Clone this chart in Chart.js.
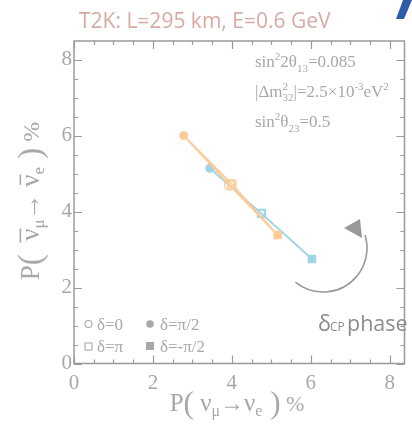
<!DOCTYPE html>
<html>
<head>
<meta charset="utf-8">
<script src="https://cdn.jsdelivr.net/npm/chart.js@4/dist/chart.umd.min.js"></script>
<style>
html, body { margin: 0; padding: 0; background: #fff; }
#wrap { width: 412px; height: 424px; }
</style>
</head>
<body>
<div id="wrap"><canvas id="bpChart" width="412" height="424"></canvas></div>
<script>
/* bi-probability plot, T2K */

// delta_CP at each marked point, in order round the ellipse
var deltaLabels = ["0", "π/2", "π", "-π/2", "0"];
// orange ellipse, P(nu) and P(nubar) in %
var nhX = [3.94, 2.78, 4.00, 5.16, 3.94];
var nhY = [4.70, 6.00, 4.72, 3.38, 4.70];
// blue ellipse
var ihX = [4.74, 3.44, 4.75, 6.03, 4.74];
var ihY = [3.96, 5.14, 3.95, 2.75, 3.96];

var xTicks = [0, 2, 4, 6, 8];
var yTicks = [0, 2, 4, 6, 8];
var minorStep = 0.5;

var orange = "#fccb98";
var blue = "#9dd5e5";
var axisGrey = "#9a9a9a";
var textGrey = "#a8a8a8";
var serif = '"Liberation Serif", "DejaVu Serif", serif';

function toPoints(xs, ys) {
    return xs.map(function (x, i) { return { x: x, y: ys[i] }; });
}

// open markers for 0 and pi, filled for +-pi/2
function markerSet(color, openR) {
    return {
        pointStyle: ["circle", "circle", "rect", "rect", "circle"],
        pointRadius: [openR, 4.5, 5.5, 6, 0],
        pointBackgroundColor: ["rgba(0,0,0,0)", color, "rgba(0,0,0,0)", color, color],
        pointBorderColor: color,
        pointBorderWidth: [1.5, 0, 1.5, 0, 0]
    };
}

// text made of pieces (sub/superscripts, overbars)
function richWidth(ctx, parts) {
    var w = 0;
    parts.forEach(function (p) {
        ctx.font = (p.size || 17) + "px " + (p.font || serif);
        if (!p.stack) w += ctx.measureText(p.t).width;
    });
    return w;
}
function drawRich(ctx, parts, x, y) {
    var cx = x;
    parts.forEach(function (p) {
        var size = p.size || 17;
        ctx.font = size + "px " + (p.font || serif);
        var w = ctx.measureText(p.t).width;
        ctx.fillText(p.t, cx, y + (p.dy || 0));
        if (p.bar) {
            ctx.fillRect(cx + w * 0.45, y + (p.dy || 0) - size * 0.72, w * 0.55, 1.6);
        }
        if (!p.stack) cx += w;
    });
}

var nuX = [
    { t: "P", size: 25 }, { t: "(", size: 31, dy: 2 }, { t: " ν", size: 25 },
    { t: "μ", size: 16, dy: 5 }, { t: "→", size: 24 }, { t: "ν", size: 25 },
    { t: "e", size: 16, dy: 5 }, { t: " )", size: 31, dy: 2 }, { t: " %", size: 22 }
];
var nuY = [
    { t: "P", size: 27 }, { t: "(", size: 33, dy: 2 }, { t: "  ν", size: 27, bar: true },
    { t: "μ", size: 17, dy: 5 }, { t: "→", size: 26 }, { t: " ν", size: 27, bar: true },
    { t: "e", size: 17, dy: 5 }, { t: " )", size: 33, dy: 2 }, { t: " %", size: 24 }
];
var params = [
    [{ t: "sin" }, { t: "2", size: 11, dy: -7 }, { t: "2θ" }, { t: "13", size: 11, dy: 5 }, { t: "=0.085" }],
    [{ t: "|Δm" }, { t: "2", size: 11, dy: -7, stack: true }, { t: "32", size: 11, dy: 4 },
     { t: "|=2.5×10" }, { t: "-3", size: 11, dy: -7 }, { t: "eV" }, { t: "2", size: 11, dy: -7 }],
    [{ t: "sin" }, { t: "2", size: 11, dy: -7 }, { t: "θ" }, { t: "23", size: 11, dy: 5 }, { t: "=0.5" }]
];

var decorPlugin = {
    id: "decor",
    afterDraw: function (chart) {
        var ctx = chart.ctx;
        var area = chart.chartArea;
        var xs = chart.scales.x, ys = chart.scales.y;
        ctx.save();

        // frame and inward ticks on all four sides
        ctx.strokeStyle = axisGrey;
        ctx.lineWidth = 1.5;
        ctx.strokeRect(area.left, area.top, area.right - area.left - 1, area.bottom - area.top);
        ctx.lineWidth = 1.2;
        ctx.beginPath();
        for (var v = 0; v <= xs.max; v += minorStep) {
            var px = Math.round(xs.getPixelForValue(v)) + 0.5;
            var len = (v % 2 === 0) ? 8 : 4;
            ctx.moveTo(px, area.bottom); ctx.lineTo(px, area.bottom - len);
            ctx.moveTo(px, area.top); ctx.lineTo(px, area.top + len);
        }
        for (var w = 0; w <= ys.max; w += minorStep) {
            var py = Math.round(ys.getPixelForValue(w)) + 0.5;
            var l2 = (w % 2 === 0) ? 8 : 4;
            ctx.moveTo(area.left, py); ctx.lineTo(area.left + l2, py);
            ctx.moveTo(area.right - 1, py); ctx.lineTo(area.right - 1 - l2, py);
        }
        ctx.stroke();

        // axis titles
        ctx.fillStyle = textGrey;
        ctx.textBaseline = "alphabetic";
        ctx.textAlign = "left";
        var wx = richWidth(ctx, nuX);
        drawRich(ctx, nuX, 237 - wx / 2, 411);
        ctx.save();
        ctx.translate(39, 201);
        ctx.rotate(-Math.PI / 2);
        var wy = richWidth(ctx, nuY);
        drawRich(ctx, nuY, -wy / 2, 0);
        ctx.restore();

        // oscillation parameters
        params.forEach(function (line, i) {
            drawRich(ctx, line, 255, 67 + i * 30);
        });

        // legend for the delta markers
        ctx.fillStyle = textGrey;
        ctx.strokeStyle = textGrey;
        ctx.lineWidth = 1.1;
        ctx.beginPath(); ctx.arc(88.5, 324, 3.5, 0, 2 * Math.PI); ctx.stroke();
        ctx.beginPath(); ctx.arc(150, 324, 3.8, 0, 2 * Math.PI); ctx.fill();
        ctx.strokeRect(85, 343, 7, 7);
        ctx.fillRect(146, 342, 8, 8);
        ctx.font = "17px " + serif;
        ctx.fillText("δ=" + deltaLabels[0], 97, 330);
        ctx.fillText("δ=" + deltaLabels[1], 160, 330);
        ctx.fillText("δ=" + deltaLabels[2], 97, 352);
        ctx.fillText("δ=" + deltaLabels[3], 160, 352);

        // curved arrow showing the direction of delta_CP
        ctx.strokeStyle = "#999";
        ctx.lineWidth = 1.6;
        ctx.beginPath();
        ctx.arc(323, 248, 44, 2.25, -0.3, true);
        ctx.stroke();
        ctx.fillStyle = "#999";
        ctx.beginPath();
        ctx.moveTo(344, 228); ctx.lineTo(360, 219); ctx.lineTo(362, 238);
        ctx.closePath(); ctx.fill();

        ctx.fillStyle = "#8c8c8c";
        ctx.font = '21.5px "Open Sans", sans-serif';
        ctx.fillText("δ", 318, 331);
        ctx.font = '12px "Open Sans", sans-serif';
        ctx.fillText("CP", 330, 331);
        ctx.font = '21.5px "Open Sans", sans-serif';
        ctx.fillText("phase", 347, 331);

        // heading
        ctx.fillStyle = "#d7aaa4";
        ctx.font = '21px "Open Sans", sans-serif';
        ctx.fillText("T2K: L=295 km, E=0.6 GeV", 79, 28);

        // corner of the logo
        ctx.fillStyle = "#2f5ca8";
        ctx.beginPath();
        ctx.moveTo(403, 0); ctx.lineTo(412, 0); ctx.lineTo(404, 19); ctx.lineTo(396, 19);
        ctx.closePath(); ctx.fill();
        ctx.restore();
    }
};

window.onload = function () {
    var ctx = document.getElementById("bpChart").getContext("2d");
    var nh = Object.assign({
        label: "orange",
        data: toPoints(nhX, nhY),
        showLine: true,
        borderColor: orange,
        borderWidth: 1.7,
        tension: 0
    }, markerSet(orange, 5));
    var ih = Object.assign({
        label: "blue",
        data: toPoints(ihX, ihY),
        showLine: true,
        borderColor: blue,
        borderWidth: 1.8,
        tension: 0
    }, markerSet(blue, 3.5));

    window.bpChart = new Chart(ctx, {
        type: "scatter",
        data: { datasets: [nh, ih] },
        options: {
            responsive: false,
            animation: false,
            layout: { padding: { top: 41, left: 0, right: 0, bottom: 0 } },
            plugins: {
                legend: { display: false },
                tooltip: { enabled: false },
                title: { display: false }
            },
            scales: {
                x: {
                    type: "linear",
                    min: 0,
                    max: 8.4,
                    grid: { display: false },
                    border: { display: false },
                    afterFit: function (s) { s.height = 60.5; },
                    afterBuildTicks: function (s) {
                        s.ticks = xTicks.map(function (v) { return { value: v }; });
                    },
                    ticks: {
                        color: textGrey,
                        font: { family: serif, size: 21 },
                        padding: -1,
                        maxRotation: 0
                    }
                },
                y: {
                    type: "linear",
                    min: 0,
                    max: 8.49,
                    grid: { display: false },
                    border: { display: false },
                    afterFit: function (s) { s.width = 74; },
                    afterBuildTicks: function (s) {
                        s.ticks = yTicks.map(function (v) { return { value: v }; });
                    },
                    ticks: {
                        color: textGrey,
                        font: { family: serif, size: 21 },
                        padding: -6
                    }
                }
            }
        },
        plugins: [decorPlugin]
    });
};
</script>
</body>
</html>
